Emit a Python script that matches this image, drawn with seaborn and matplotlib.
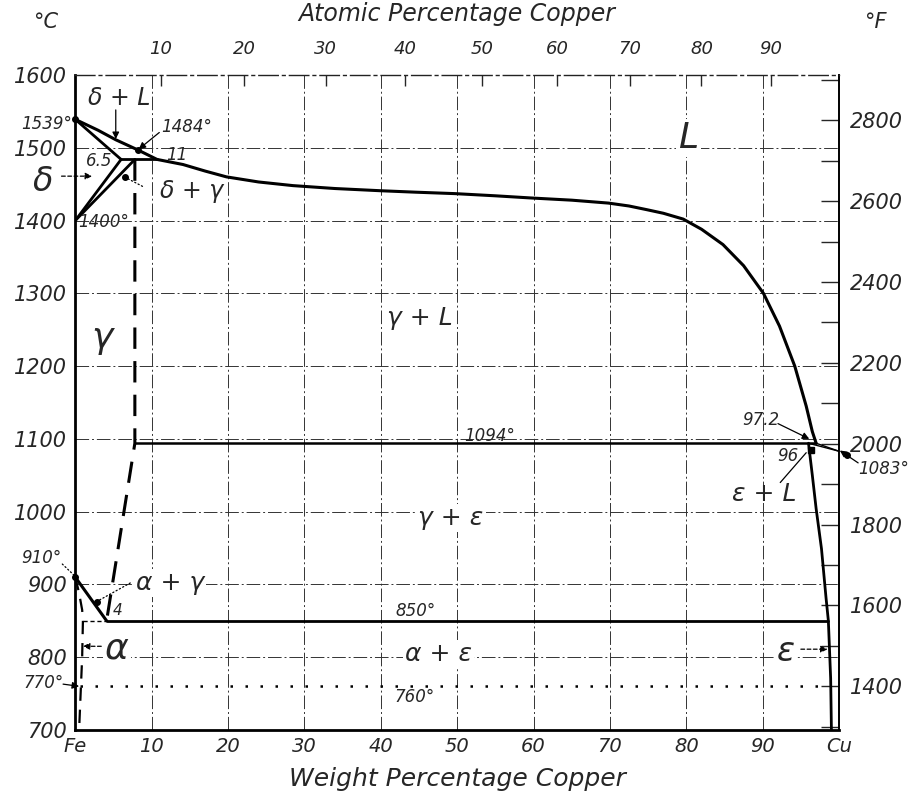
import numpy as np
import pandas as pd
import matplotlib
matplotlib.use("Agg")
import matplotlib.pyplot as plt
import seaborn as sns
from matplotlib.ticker import FixedLocator

# ---------------- data (weight % Cu, deg C) ----------------
liquidus_wt = [0, 3.0, 5.3, 8.2, 10.7, 14.1, 17.0, 19.8, 24.0, 28.5, 34.0, 39.9, 44.5, 49.7,
               55.0, 59.7, 65.0, 69.8, 72.5, 74.8, 77.0, 79.6, 82.0, 84.8, 87.5, 90.1,
               92.2, 94.2, 95.7, 96.5, 97.0]
liquidus_T = [1539, 1524, 1511, 1497, 1484, 1477, 1468, 1460, 1453, 1448, 1444, 1441, 1439, 1437,
              1434, 1431, 1428, 1424, 1420, 1415, 1410, 1402, 1388, 1367, 1338, 1300,
              1255, 1200, 1145, 1110, 1094]
delta_solidus_wt = [0, 6.0]
delta_solidus_T = [1539, 1484]
delta_solvus_wt = [0, 6.0]
delta_solvus_T = [1400, 1484]
gamma_solvus_wt = [0, 7.8]
gamma_solvus_T = [1400, 1484]
peritectic_wt = [6.0, 10.7]
peritectic_T = [1484, 1484]
gamma_limit_wt = [7.8, 7.8, 4.1]
gamma_limit_T = [1484, 1094, 850]
eutectic_wt = [7.8, 97.0]
eutectic_T = [1094, 1094]
a3_wt = [0, 4.1]
a3_T = [910, 850]
alpha_limit_wt = [0, 0.5, 0.9, 1.0, 0.9, 0.7, 0.5]
alpha_limit_T = [910, 888, 865, 850, 800, 750, 700]
eutectoid_left_wt = [1.0, 4.1]
eutectoid_left_T = [850, 850]
eutectoid_wt = [4.1, 98.6]
eutectoid_T = [850, 850]
eps_solvus_wt = [96.0, 96.5, 97.0, 97.7, 98.3, 98.6, 98.9, 99.0]
eps_solvus_T = [1094, 1050, 1004, 949, 881, 850, 771, 700]
cu_liquidus_wt = [97.0, 100]
cu_liquidus_T = [1094, 1083]
cu_solidus_wt = [96.0, 100]
cu_solidus_T = [1094, 1083]
magnetic_wt = [0.6, 99.0]
magnetic_T = [760, 760]

wt_ticks = [0, 10, 20, 30, 40, 50, 60, 70, 80, 90, 100]
wt_labels = ["Fe", "10", "20", "30", "40", "50", "60", "70", "80", "90", "Cu"]
at_ticks = [10, 20, 30, 40, 50, 60, 70, 80, 90]
at_labels = ["10", "20", "30", "40", "50", "60", "70", "80", "90"]
celsius_ticks = [700, 800, 900, 1000, 1100, 1200, 1300, 1400, 1500, 1600]
fahrenheit_ticks = [1400, 1600, 1800, 2000, 2200, 2400, 2600, 2800]
fahrenheit_minor = [1300, 1500, 1700, 1900, 2100, 2300, 2500, 2700, 2900]

M_CU, M_FE = 63.55, 55.85

# ---------------- style ----------------
sns.set_style("white")
plt.rcParams["font.family"] = ["DejaVu Sans"]
plt.rcParams["font.style"] = "italic"
plt.rcParams["mathtext.default"] = "it"

fig = plt.figure(figsize=(9.17, 7.97), dpi=100)
ax = fig.add_axes([0.0821, 0.0841, 0.8329, 0.8218])
ax.set_xlim(0, 100)
ax.set_ylim(700, 1600)

# grid
gridstyle = dict(color="#333333", linewidth=0.7, linestyle=(0, (14, 3, 2, 3)), zorder=1)
for g in range(10, 100, 10):
    ax.axvline(g, **gridstyle)
for g in range(800, 1600, 100):
    ax.axhline(g, **gridstyle)

K = "black"
def curve(xs, ys, lw=2.0, ls="-"):
    df = pd.DataFrame({"wt": xs, "T": ys})
    sns.lineplot(data=df, x="wt", y="T", sort=False, estimator=None, ax=ax,
                 color=K, linewidth=lw, linestyle=ls, zorder=3)

curve(liquidus_wt, liquidus_T, 2.2)
curve(delta_solidus_wt, delta_solidus_T, 2.0)
curve(delta_solvus_wt, delta_solvus_T, 2.0)
curve(gamma_solvus_wt, gamma_solvus_T, 2.0)
curve(peritectic_wt, peritectic_T, 2.0)
curve(gamma_limit_wt, gamma_limit_T, 2.2, (0, (7, 4)))
curve(eutectic_wt, eutectic_T, 1.8)
curve(a3_wt, a3_T, 2.2)
curve(alpha_limit_wt, alpha_limit_T, 1.6, (0, (6, 4)))
curve(eutectoid_left_wt, eutectoid_left_T, 1.0, (0, (3, 2)))
curve(eutectoid_wt, eutectoid_T, 2.0)
curve(eps_solvus_wt, eps_solvus_T, 2.0)
curve(cu_liquidus_wt, cu_liquidus_T, 1.0)
curve(cu_solidus_wt, cu_solidus_T, 1.0)
curve(magnetic_wt, magnetic_T, 1.8, (0, (1, 5)))

# spines
for s in ["left", "bottom", "right"]:
    ax.spines[s].set_linewidth(2.0 if s != "right" else 1.4)
    ax.spines[s].set_color(K)
ax.spines["top"].set_linewidth(1.0)
ax.spines["top"].set_linestyle((0, (14, 3, 2, 3)))
ax.spines["top"].set_color("#222222")

# ticks
ax.set_xticks(wt_ticks)
ax.set_xticklabels(wt_labels, fontsize=14, style="italic")
ax.set_yticks(celsius_ticks)
ax.set_yticklabels([str(t) for t in celsius_ticks], fontsize=15, style="italic")
ax.tick_params(axis="both", length=0, pad=6)
ax.tick_params(axis="x", pad=5)
ax.set_xlabel("Weight Percentage Copper", fontsize=18, style="italic", labelpad=8)
ax.set_ylabel("")

def wt2at(w):
    w = np.asarray(w, dtype=float)
    a = w / M_CU
    b = (100 - w) / M_FE
    with np.errstate(divide="ignore", invalid="ignore"):
        return 100 * a / (a + b)

def at2wt(p):
    p = np.asarray(p, dtype=float)
    a = p * M_CU
    b = (100 - p) * M_FE
    with np.errstate(divide="ignore", invalid="ignore"):
        return 100 * a / (a + b)

top = ax.secondary_xaxis("top", functions=(wt2at, at2wt))
top.set_xticks(at_ticks)
top.set_xticklabels(at_labels, fontsize=13, style="italic")
top.tick_params(direction="in", length=8, width=1.0, pad=12)
top.spines["top"].set_visible(False)
top.set_xlabel("Atomic Percentage Copper", fontsize=17, style="italic", labelpad=14)

right = ax.secondary_yaxis("right", functions=(lambda c: c * 9 / 5 + 32, lambda f: (f - 32) * 5 / 9))
right.yaxis.set_major_locator(FixedLocator(fahrenheit_ticks))
right.yaxis.set_minor_locator(FixedLocator(fahrenheit_minor))
right.set_yticklabels([str(t) for t in fahrenheit_ticks], fontsize=15, style="italic")
right.tick_params(which="both", direction="in", length=13, width=1.0, pad=8)
right.spines["right"].set_visible(False)

fig.text(0.05, 0.985, "°C", fontsize=15, style="italic", ha="center", va="top")
fig.text(0.955, 0.985, "°F", fontsize=15, style="italic", ha="center", va="top")

# ---------------- labels ----------------
WB = dict(fc="white", ec="none", pad=1.5)
def lab(s, x, y, size=18, bbox=None, ha="center"):
    ax.text(x, y, s, fontsize=size, style="italic", ha=ha, va="center",
            bbox=bbox, zorder=5, clip_on=False)

def arrow(x0, y0, x1, y1, ls="-", style="-|>", lw=0.9):
    ax.annotate("", xy=(x1, y1), xytext=(x0, y0),
                arrowprops=dict(arrowstyle=style, color=K, lw=lw, linestyle=ls,
                                shrinkA=0, shrinkB=0, mutation_scale=10),
                annotation_clip=False, zorder=5)

def dot(x, y, m="o", s=4):
    ax.plot([x], [y], marker=m, color=K, markersize=s, zorder=6, clip_on=False)

lab("δ + L", 5.8, 1568, 17)
arrow(5.3, 1552, 5.3, 1512)
lab("1484°", 14.6, 1528, 12)
arrow(11.0, 1521, 8.3, 1498)
dot(8.2, 1497)
lab("11", 13.3, 1490, 12)
lab("6.5", 3.1, 1482, 12)
lab("δ", -4.2, 1454, 24)
arrow(-1.8, 1461, 2.2, 1461, ls=(0, (3, 2)))
lab("δ + γ", 15.2, 1440, 17)
arrow(8.8, 1447, 6.6, 1459, ls=(0, (1, 2)), style="-")
dot(6.5, 1460)
lab("1400°", 0.4, 1398, 12, ha="left")
lab("1539°", -0.4, 1532, 12, ha="right")
dot(0, 1539)
lab("γ", 3.5, 1238, 26)
lab("γ + L", 45.1, 1266, 18)
lab("L", 80.3, 1513, 26, bbox=WB)
lab("1094°", 54.3, 1104, 12)
lab("97.2", 89.7, 1126, 12)
arrow(92.0, 1121, 96.1, 1100)
lab("96", 93.3, 1077, 12)
dot(96.3, 1085, m="s", s=4)
lab("1083°", 105.8, 1059, 12)
arrow(102.5, 1067, 100.1, 1084)
dot(101.0, 1078)
lab("ε + L", 90.2, 1024, 18)
arrow(92.3, 1040, 95.7, 1081, style="-")
lab("γ + ε", 49.2, 991, 18, bbox=WB)
lab("α + γ", 12.4, 902, 18, bbox=WB)
arrow(7.2, 902, 2.9, 877, ls=(0, (1, 2)), style="-")
dot(2.8, 876)
lab("4", 5.6, 864, 11)
lab("910°", -4.4, 936, 12)
arrow(-1.7, 928, 0, 911, ls=(0, (1, 2)), style="-")
dot(0, 910)
lab("α", 5.5, 812, 26, bbox=WB)
arrow(3.4, 815, 1.0, 815, ls=(0, (3, 2)))
lab("850°", 44.5, 864, 12)
lab("α + ε", 47.5, 805, 18, bbox=WB)
lab("760°", 44.4, 745, 12)
lab("ε", 93.0, 808, 24, bbox=WB)
arrow(95.0, 811, 98.5, 811, ls=(0, (3, 2)))
lab("770°", -4.2, 765, 12)
arrow(-1.6, 763, 0.5, 760)

fig.savefig("out.png", dpi=100)
